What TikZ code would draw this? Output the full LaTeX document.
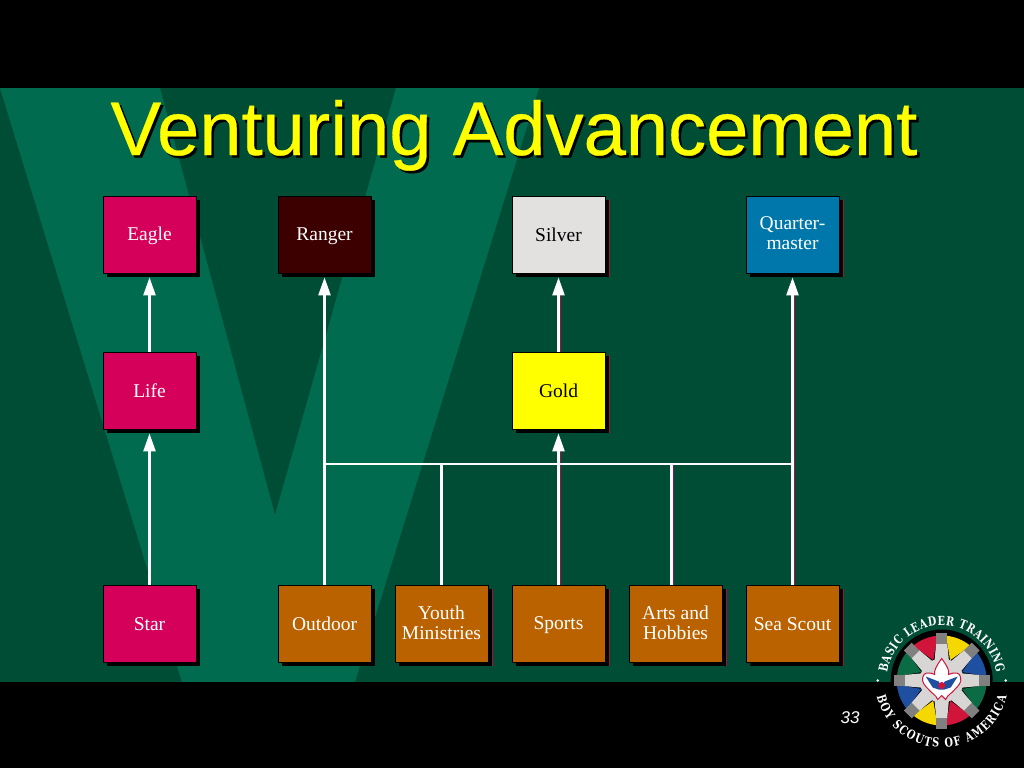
\documentclass[tikz,border=0pt]{standalone}
\usepackage{fontspec}
\setmainfont{Liberation Serif}
\setsansfont{Liberation Sans}
\newfontfamily\titlefont[FakeBold=0.4]{Liberation Sans}
\newfontfamily\logofont[FakeStretch=0.78]{DejaVu Serif}
\usetikzlibrary{arrows.meta,shadows,decorations.text}
\definecolor{bgdark}{HTML}{004D36}
\definecolor{bglight}{HTML}{006B4F}
\definecolor{crimson}{HTML}{D50059}
\definecolor{maroon}{HTML}{3D0000}
\definecolor{silver}{HTML}{E3E0E0}
\definecolor{seablue}{HTML}{0077AA}
\definecolor{ochre}{HTML}{BA6200}
\definecolor{pureyellow}{HTML}{FFFF00}
\definecolor{edgered}{HTML}{A01040}
\definecolor{scoutgreen}{HTML}{0B6B45}
\definecolor{scoutblue}{HTML}{1F4FA0}
\definecolor{scoutred}{HTML}{D0143A}
\definecolor{scoutyellow}{HTML}{F5D800}
\begin{document}
\begin{tikzpicture}[
                x=1pt, y=-1pt,
                rank/.style={draw=black, line width=0.8pt, minimum width=93pt, minimum height=77pt, inner sep=0pt,
                    align=center, text=white, font=\fontsize{19.5}{20}\selectfont,
                    execute at begin node={\rule{0pt}{16pt}}, execute at end node={\rule[-3pt]{0pt}{3pt}},
                    drop shadow={fill=black, opacity=1, shadow xshift=3.5pt, shadow yshift=-3.5pt}},
                link/.style={draw=white, line width=2.5pt},
                edgeline/.style={draw=edgered, line width=1pt},
                up/.style={link, -{Triangle[length=18pt,width=12pt]}, shorten >=4pt},
                logotext/.style={decorate, decoration={text along path, text align={fit to path}, text={|\logofont\bfseries\fontsize{12.5}{12.5}\selectfont\color{white}|#1}}}
            ]
            % Slide background
            \fill[bgdark] (0,0) rectangle (1024,768);
            \fill[bglight] (0,88) -- (160,88) -- (275,515) -- (396,88) -- (539,88) -- (355,682) -- (182,682) -- cycle;
            \fill[black] (0,0) rectangle (1024,88);
            \fill[black] (0,682) rectangle (1024,768);

            % Title with its shadow
            \node[anchor=base, font=\titlefont\fontsize{76}{76}\selectfont, text=black] (titleshadow) at (516.5,157.5) {Venturing Advancement};
            \node[anchor=base, font=\titlefont\fontsize{76}{76}\selectfont, text=pureyellow] (title) at (514,155) {Venturing Advancement};

            % Top row
            \node[rank, fill=crimson] (eagle) at (149.5,234.5) {Eagle};
            \node[rank, fill=maroon] (ranger) at (324.5,234.5) {Ranger};
            \node[rank, fill=silver, text=black] (silver) at (558.5,234.5) {Silver};
            \node[rank, fill=seablue] (quarter) at (792.5,234.5) {Quarter-\\master};

            % Middle row
            \node[rank, fill=crimson] (life) at (149.5,390.5) {Life};
            \node[rank, fill=pureyellow, text=black] (gold) at (558.5,390.5) {Gold};

            % Bottom row
            \node[rank, fill=crimson] (star) at (149.5,624) {Star};
            \node[rank, fill=ochre] (outdoor) at (324.5,624) {Outdoor};
            \node[rank, fill=ochre] (youth) at (441.5,624) {Youth\\Ministries};
            \node[rank, fill=ochre] (sports) at (558.5,624) {Sports};
            \node[rank, fill=ochre] (arts) at (675.5,624) {Arts and\\Hobbies};
            \node[rank, fill=ochre] (sea) at (792.5,624) {Sea Scout};

            % Thin red rim on the shadows
            \foreach \n in {youth,sports,arts,sea,silver,gold,quarter}
                \draw[edgeline] ([xshift=4pt,yshift=-3.5pt]\n.north east) -- ([xshift=4pt,yshift=-3.5pt]\n.south east);

            % Connectors
            \coordinate (artsfoot) at (671.5,585);
            \coordinate (busleft) at (324.5,464);
            \coordinate (busright) at (792.5,464);
            \draw[edgeline, shorten >=20pt] ([xshift=1.6pt]gold.north) -- ([xshift=1.6pt]silver.south);
            \draw[edgeline, shorten >=20pt] ([xshift=1.6pt]sports.north) -- ([xshift=1.6pt]gold.south);
            \draw[edgeline, shorten >=20pt] ([xshift=1.6pt]sea.north) -- ([xshift=1.6pt]quarter.south);
            \draw[edgeline] ([xshift=1.6pt]artsfoot) -- ([xshift=1.6pt]artsfoot |- busleft);
            \draw[up] (life.north) -- (eagle.south);
            \draw[up] (star.north) -- (life.south);
            \draw[up] (gold.north) -- (silver.south);
            \draw[up] (outdoor.north) -- (ranger.south);
            \draw[up] (sports.north) -- (gold.south);
            \draw[up] (sea.north) -- (quarter.south);
            \draw[link] (busleft) -- (busright);
            \draw[link] (youth.north) -- (youth.north |- busleft);
            \draw[link] (artsfoot) -- (artsfoot |- busleft);

            % Page number
            \node[text=white, font=\sffamily\itshape\fontsize{17}{17}\selectfont] (page) at (850,718) {33};

            % Logo
            \begin{scope}[shift={(941.7,680.5)}, y=1pt]
                \fill[black] (0,0) circle[radius=51pt];
                \foreach \a/\c in {22.5/scoutblue, 67.5/scoutyellow, 112.5/scoutred, 157.5/scoutgreen, 202.5/scoutblue, 247.5/scoutyellow, 292.5/scoutred, 337.5/scoutgreen}
                    \fill[\c] (\a:22) -- (\a-17:45) arc[start angle=\a-17, end angle=\a+17, radius=45pt] -- cycle;
                \foreach \a in {0,45,...,315} {
                    \fill[silver!95!black, rotate=\a] (0,-9) -- (38,-5.5) -- (38,5.5) -- (0,9) -- cycle;
                    \fill[gray, rotate=\a] (37,-5.5) -- (48,-5.5) -- (48,5.5) -- (37,5.5) -- cycle;
                }
                \fill[silver!95!black] (0,0) circle[radius=22pt];
                % Fleur-de-lis
                \fill[white, draw=scoutred, line width=1pt] (0,22) .. controls (-5,15) and (-8,10) .. (-7,6)
                    .. controls (-14,9) and (-18,8) .. (-19,3) .. controls (-20,-2) and (-17,-5) .. (-13,-9)
                    .. controls (-10,-13) and (-6,-14) .. (-4,-19) -- (0,-15) -- (4,-19)
                    .. controls (6,-14) and (10,-13) .. (13,-9) .. controls (17,-5) and (20,-2) .. (19,3)
                    .. controls (18,8) and (14,9) .. (7,6) .. controls (8,10) and (5,15) .. (0,22) -- cycle;
                \fill[scoutblue] (-16,4) -- (-3,-1) -- (0,-7) -- (3,-1) -- (16,4) -- (9,-7) -- (3,-9) -- (-3,-9) -- (-9,-7) -- cycle;
                \fill[scoutred] (0,-5) circle[radius=3.5pt];
                % Ring lettering
                \path[logotext={BASIC LEADER TRAINING}] (172:55) arc[start angle=172, end angle=8, radius=55pt];
                \path[logotext={BOY SCOUTS OF AMERICA}] (194:67) arc[start angle=194, end angle=346, radius=67pt];
                \fill[white] (180:64) circle[radius=1.3pt];
                \fill[white] (0:64) circle[radius=1.3pt];
            \end{scope}
        \end{tikzpicture}
\end{document}
